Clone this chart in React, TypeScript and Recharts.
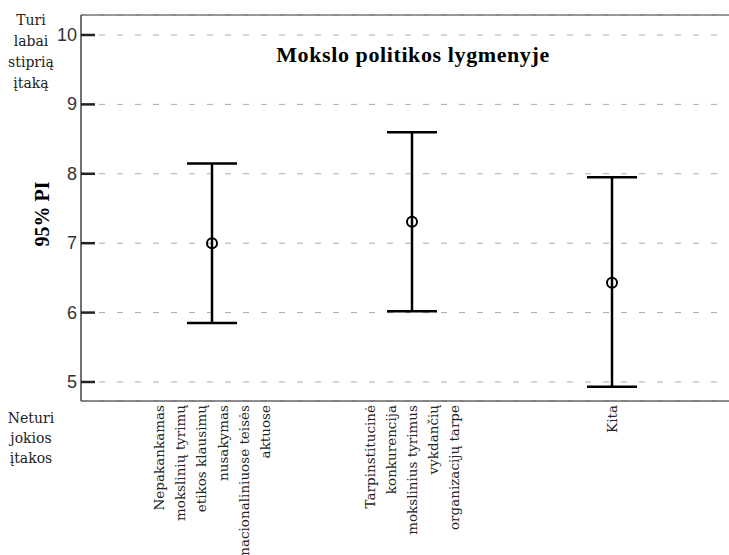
import React from "react";
import { ScatterChart, Scatter, XAxis, YAxis, CartesianGrid, ErrorBar, ReferenceLine, Customized } from "recharts";

// category labels, one array of lines per category
const categoryLines: string[][] = [
  ["Nepakankamas", "mokslinių tyrimų", "etikos klausimų", "nusakymas", "nacionaliniuose teisės", "aktuose"],
  ["Tarpinstitucinė", "konkurencija", "mokslinius tyrimus", "vykdančių", "organizacijų tarpe"],
  ["Kita"],
];
const categoryPos = [1, 2, 3];
const means = [7.0, 7.31, 6.43];
const lower = [5.85, 6.02, 4.93];
const upper = [8.15, 8.6, 7.95];
const yTicks = [5, 6, 7, 8, 9, 10];
const topLabel = ["Turi", "labai", "stiprią", "įtaką"];
const bottomLabel = ["Neturi", "jokios", "įtakos"];

const Y_MIN = 4.726;
const Y_MAX = 10.288;
const SERIF = "'DejaVu Serif', serif";
const TIMES = "'Liberation Serif', 'Times New Roman', serif";

const rows = categoryPos.map((x, i) => ({
  x,
  mean: means[i],
  err: [means[i] - lower[i], upper[i] - means[i]],
}));

function YTick(props: any) {
  const { x, y, payload } = props;
  const v = payload.value;
  return (
    <g>
      <line x1={x + 4} x2={x + 18} y1={y} y2={y} stroke="#222" strokeWidth={2.5} />
      <text x={x} y={y} textAnchor="end" dominantBaseline="central" fontFamily="'Liberation Sans', Arial, sans-serif" fontSize={18} fill="#333">
        {v}
      </text>
      {v === 10 &&
        topLabel.map((t, i) => (
          <text key={t} x={x - 46} y={y - 15 + i * 21} textAnchor="middle" dominantBaseline="central" fontFamily={SERIF} fontSize={14} fill="#222">
            {t}
          </text>
        ))}
      {v === 5 &&
        bottomLabel.map((t, i) => (
          <text key={t} x={x - 46} y={y + 36 + i * 20} textAnchor="middle" dominantBaseline="central" fontFamily={SERIF} fontSize={14} fill="#222">
            {t}
          </text>
        ))}
    </g>
  );
}

function XTick(props: any) {
  const { x, y, payload } = props;
  const idx = categoryPos.indexOf(payload.value);
  const lines = categoryLines[idx] || [];
  const n = lines.length;
  return (
    <g>
      {lines.map((t, i) => {
        const lx = x + (i - (n - 1) / 2) * 21.2;
        return (
          <text
            key={t}
            transform={`translate(${lx},${y}) rotate(-90)`}
            textAnchor="end"
            dominantBaseline="central"
            fontFamily={SERIF}
            fontSize={13.5}
            fill="#222"
          >
            {t}
          </text>
        );
      })}
    </g>
  );
}

function MeanDot(props: any) {
  const { cx, cy } = props;
  return <circle cx={cx} cy={cy} r={5} fill="none" stroke="#000" strokeWidth={2} />;
}

function Titles() {
  return (
    <g>
      <text x={413} y={62} textAnchor="middle" fontFamily={TIMES} fontWeight="bold" fontSize={22} letterSpacing={0.6} fill="#000">
        Mokslo politikos lygmenyje
      </text>
      <text transform="translate(42,214) rotate(-90)" textAnchor="middle" dominantBaseline="central" fontFamily={TIMES} fontWeight="bold" fontSize={20} fill="#000">
        95% PI
      </text>
    </g>
  );
}

export default function App() {
  return (
    <div style={{ position: "absolute", left: 0, top: 0, background: "#fff" }}>
      <ScatterChart width={729} height={555} margin={{ top: 15, right: 0, bottom: 0, left: 0 }}>
        <CartesianGrid vertical={false} stroke="#aaa" strokeDasharray="6 12" />
        <XAxis
          type="number"
          dataKey="x"
          domain={[0.345, 3.585]}
          ticks={categoryPos}
          allowDataOverflow
          height={154}
          tickLine={false}
          tickSize={0}
          tickMargin={4}
          axisLine={{ stroke: "#666", strokeWidth: 1.5 }}
          tick={<XTick />}
          interval={0}
        />
        <YAxis
          type="number"
          dataKey="mean"
          domain={[Y_MIN, Y_MAX]}
          ticks={yTicks}
          allowDataOverflow
          width={81}
          tickLine={false}
          tickSize={0}
          tickMargin={4}
          axisLine={{ stroke: "#444", strokeWidth: 1.5 }}
          tick={<YTick />}
          interval={0}
        />
        <ReferenceLine y={Y_MAX} stroke="#777" strokeWidth={1.5} />
        <Scatter data={rows} dataKey="mean" shape={<MeanDot />} isAnimationActive={false}>
          <ErrorBar dataKey="err" direction="y" width={25} stroke="#000" strokeWidth={2.5} isAnimationActive={false} />
        </Scatter>
        <Customized component={<Titles />} />
      </ScatterChart>
    </div>
  );
}
